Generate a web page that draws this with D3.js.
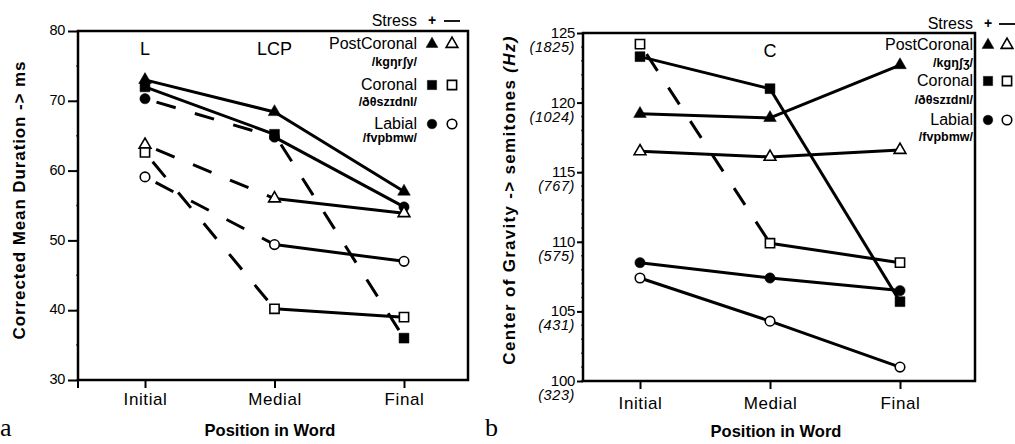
<!DOCTYPE html>
<html lang="en">
  <head>
    <meta charset="utf-8" />
    <script src="https://d3js.org/d3.v7.min.js" charset="utf-8"></script>
    <style>
      body {
        margin: 0;
        background: #fff;
      }
      svg text {
        font-family: 'Liberation Sans', Arial, sans-serif;
      }
      .axis path {
        stroke-width: 0;
      }
      .axis line {
        stroke: #000;
        stroke-width: 2;
      }
    </style>
  </head>
  <body>
    <div id="plot-container"></div>

    <script type="text/javascript">
      // data //--------------------------------------------------------

      var positions = ['Initial', 'Medial', 'Final'];
      var classes = ['PostCoronal', 'Coronal', 'Labial'];
      var phonemes_a = ['/kɡŋrʃy/', '/ðθszɪdnl/', '/fvpbmw/'];
      var phonemes_b = ['/kɡŋʃʒ/', '/ðθszɪdnl/', '/fvpbmw/'];

      // panel a: corrected mean duration (ms)
      var dur_ticks = [30, 40, 50, 60, 70, 80];
      var dur_postcoronal_stressed = [73.0, 68.4, 57.0];
      var dur_postcoronal_unstressed = [63.7, 56.0, 53.9];
      var dur_coronal_stressed = [72.0, 65.2, 36.0];
      var dur_coronal_unstressed = [62.6, 40.2, 39.0];
      var dur_labial_stressed = [70.3, 64.8, 54.8];
      var dur_labial_unstressed = [59.1, 49.4, 47.0];
      // link type of each segment: s = solid, d = dashed
      var dur_postcoronal_stressed_links = ['s', 's'];
      var dur_postcoronal_unstressed_links = ['d', 's'];
      var dur_coronal_stressed_links = ['s', 'd'];
      var dur_coronal_unstressed_links = ['d', 's'];
      var dur_labial_stressed_links = ['d', 's'];
      var dur_labial_unstressed_links = ['d', 's'];
      var dur_notes = [['Initial', 'L'], ['Medial', 'LCP']];

      // panel b: center of gravity (semitones)
      var cog_ticks = [100, 105, 110, 115, 120, 125];
      var cog_hz = ['(323)', '(431)', '(575)', '(767)', '(1024)', '(1825)'];
      var cog_postcoronal_stressed = [119.2, 118.9, 122.7];
      var cog_postcoronal_unstressed = [116.5, 116.1, 116.6];
      var cog_coronal_stressed = [123.3, 121.0, 105.7];
      var cog_coronal_unstressed = [124.2, 109.9, 108.5];
      var cog_labial_stressed = [108.5, 107.4, 106.5];
      var cog_labial_unstressed = [107.4, 104.3, 101.0];
      var cog_postcoronal_stressed_links = ['s', 's'];
      var cog_postcoronal_unstressed_links = ['s', 's'];
      var cog_coronal_stressed_links = ['s', 's'];
      var cog_coronal_unstressed_links = ['d', 's'];
      var cog_labial_stressed_links = ['s', 's'];
      var cog_labial_unstressed_links = ['s', 's'];
      var cog_notes = [['Medial', 'C']];

      // marker shapes per class
      var shapes = [d3.symbolTriangle, d3.symbolSquare, d3.symbolCircle];
      var shape_sizes = [60, 85, 72];

      var font = "'Liberation Sans', Arial, sans-serif";

      // svg //---------------------------------------------------------

      var svg = d3
        .select('#plot-container')
        .append('svg')
        .attr('width', 1015)
        .attr('height', 444);

      function MakeSeries(stressed, unstressed, s_links, u_links) {
        // one entry per class and stress level
        var out = [];
        for (var i = 0; i < 3; i++) {
          out.push({ cls: i, filled: true, values: stressed[i], links: s_links[i] });
          out.push({ cls: i, filled: false, values: unstressed[i], links: u_links[i] });
        }
        return out;
      }

      function DrawPanel(p) {
        var g = svg.append('g');

        var x = d3.scalePoint().domain(positions).range(p.x_points);
        var y = d3.scaleLinear().domain(p.y_domain).range([p.box.bottom, p.box.top]);

        // minor ticks on the left spine
        g.append('g')
          .selectAll('line')
          .data(d3.range(p.y_domain[0], p.y_domain[1], p.minor_step))
          .join('line')
          .attr('x1', p.box.left - 2)
          .attr('x2', p.box.left)
          .attr('y1', (d) => y(d))
          .attr('y2', (d) => y(d))
          .attr('stroke', '#555')
          .attr('stroke-width', 1.5);

        // y axis
        var y_axis = g
          .append('g')
          .attr('class', 'axis')
          .attr('transform', `translate(${p.box.left},0)`)
          .call(
            d3.axisLeft(y).tickValues(p.y_ticks).tickSize(p.y_tick_size).tickPadding(p.y_tick_pad)
          )
          .attr('font-family', font);
        y_axis
          .selectAll('text')
          .attr('fill', '#000')
          .style('font-size', p.y_font + 'px')
          .style('letter-spacing', '-0.3px')
          .attr('dy', p.y_dy);

        if (p.hz) {
          g.append('g')
            .selectAll('text')
            .data(p.y_ticks)
            .join('text')
            .attr('x', p.box.left - p.y_tick_size - p.y_tick_pad)
            .attr('y', (d) => y(d) + 19)
            .attr('text-anchor', 'end')
            .style('font-size', '14.5px')
            .style('font-style', 'italic')
            .style('letter-spacing', '0.6px')
            .text((d, i) => p.hz[i]);
        }

        // x axis
        var x_axis = g
          .append('g')
          .attr('class', 'axis')
          .attr('transform', `translate(0,${p.box.bottom})`)
          .call(d3.axisBottom(x).tickSize(8).tickSizeOuter(0).tickPadding(p.x_tick_pad))
          .attr('font-family', font);
        x_axis
          .selectAll('text')
          .attr('fill', '#000')
          .style('font-size', '17px')
          .style('letter-spacing', '0.6px');

        if (p.corner_tick) {
          g.append('line')
            .attr('x1', p.box.left)
            .attr('x2', p.box.left)
            .attr('y1', p.box.bottom)
            .attr('y2', p.box.bottom + 8)
            .attr('stroke', '#000')
            .attr('stroke-width', 2);
        }

        // frame
        g.append('rect')
          .attr('x', p.box.left)
          .attr('y', p.box.top)
          .attr('width', p.box.right - p.box.left)
          .attr('height', p.box.bottom - p.box.top)
          .attr('fill', 'none')
          .attr('stroke', '#000')
          .attr('stroke-width', 2.5);

        // axis titles
        g.append('text')
          .attr('x', (p.box.left + p.box.right) / 2 - 3)
          .attr('y', p.x_title_y)
          .attr('text-anchor', 'middle')
          .style('font-size', '16.5px')
          .style('font-weight', 'bold')
          .text('Position in Word');

        var yt = g
          .append('text')
          .attr('transform', `translate(${p.y_title_x},${p.y_title_mid}) rotate(-90)`)
          .attr('text-anchor', 'middle')
          .style('font-size', '17px')
          .style('font-weight', 'bold')
          .style('letter-spacing', p.y_title_spacing);
        yt.append('tspan').text(p.y_title);
        if (p.y_title_unit) {
          yt.append('tspan').style('font-style', 'italic').text(p.y_title_unit);
        }

        // notes above the lines
        g.append('g')
          .selectAll('text')
          .data(p.notes)
          .join('text')
          .attr('x', (d) => x(d[0]))
          .attr('y', p.box.top + 24)
          .attr('text-anchor', 'middle')
          .style('font-size', '18px')
          .text((d) => d[1]);

        // lines, segment by segment
        var segs = [];
        p.series.forEach((s) => {
          for (var i = 0; i < s.values.length - 1; i++) {
            segs.push({
              a: [positions[i], s.values[i]],
              b: [positions[i + 1], s.values[i + 1]],
              dashed: s.links[i] == 'd',
            });
          }
        });

        g.append('g')
          .selectAll('line')
          .data(segs)
          .join('line')
          .attr('x1', (d) => x(d.a[0]))
          .attr('y1', (d) => y(d.a[1]))
          .attr('x2', (d) => x(d.b[0]))
          .attr('y2', (d) => y(d.b[1]))
          .attr('stroke', '#000')
          .attr('stroke-width', 3)
          .attr('stroke-dasharray', (d) => (d.dashed ? '20,20' : null))
          .attr('stroke-dashoffset', (d) => (d.dashed ? -12 : null));

        // markers: filled first, open on top
        var pts = [];
        p.series.forEach((s) => {
          s.values.forEach((v, i) => {
            pts.push({ pos: positions[i], v: v, cls: s.cls, filled: s.filled });
          });
        });
        pts.sort((a, b) => b.filled - a.filled);

        g.append('g')
          .selectAll('path')
          .data(pts)
          .join('path')
          .attr('transform', (d) => `translate(${x(d.pos)},${y(d.v)})`)
          .attr('d', (d) =>
            d3.symbol().type(shapes[d.cls]).size(d.filled ? shape_sizes[d.cls] * 1.15 : shape_sizes[d.cls])()
          )
          .attr('fill', (d) => (d.filled ? '#000' : '#fff'))
          .attr('stroke', '#000')
          .attr('stroke-width', (d) => (d.filled ? 0.5 : 1.6));

        // legend
        var lg = g.append('g').style('font-size', '16px');
        var lx = p.legend.text_x;
        lg.append('text')
          .attr('x', lx)
          .attr('y', p.legend.stress_y)
          .attr('text-anchor', 'end')
          .text('Stress');
        lg.append('text')
          .attr('x', p.legend.m1)
          .attr('y', p.legend.stress_y - 1)
          .attr('text-anchor', 'middle')
          .style('font-size', '14px')
          .style('font-weight', 'bold')
          .text('+');
        lg.append('line')
          .attr('x1', p.legend.m2 - 8)
          .attr('x2', p.legend.m2 + 8)
          .attr('y1', p.legend.stress_y - 5)
          .attr('y2', p.legend.stress_y - 5)
          .attr('stroke', '#000')
          .attr('stroke-width', 1.8);

        classes.forEach((c, i) => {
          var ry = p.legend.rows[i];
          lg.append('text')
            .attr('x', lx)
            .attr('y', ry)
            .attr('text-anchor', 'end')
            .text(c);
          lg.append('text')
            .attr('x', lx)
            .attr('y', ry + p.legend.sub_dy[i])
            .attr('text-anchor', 'end')
            .style('font-size', '12.5px')
            .style('font-weight', 'bold')
            .text(p.phonemes[i]);
          [true, false].forEach((filled) => {
            lg.append('path')
              .attr('transform', `translate(${filled ? p.legend.m1 : p.legend.m2},${ry - 5})`)
              .attr('d', d3.symbol().type(shapes[i]).size(shape_sizes[i])())
              .attr('fill', filled ? '#000' : '#fff')
              .attr('stroke', '#000')
              .attr('stroke-width', filled ? 0.5 : 1.6);
          });
        });
      }

      // panel a -------------------------------------------------------

      DrawPanel({
        box: { left: 78, right: 468, top: 31, bottom: 380 },
        x_points: [145, 404],
        y_domain: [30, 80],
        y_ticks: dur_ticks,
        minor_step: 5,
        y_tick_size: 10,
        y_tick_pad: 3,
        y_font: 14.5,
        y_dy: '0.25em',
        x_tick_pad: 5,
        corner_tick: true,
        x_title_y: 436,
        y_title_x: 25,
        y_title_mid: 200,
        y_title: 'Corrected Mean Duration -> ms',
        y_title_unit: null,
        y_title_spacing: '0.9px',
        notes: dur_notes,
        phonemes: phonemes_a,
        series: MakeSeries(
          [dur_postcoronal_stressed, dur_coronal_stressed, dur_labial_stressed],
          [dur_postcoronal_unstressed, dur_coronal_unstressed, dur_labial_unstressed],
          [dur_postcoronal_stressed_links, dur_coronal_stressed_links, dur_labial_stressed_links],
          [dur_postcoronal_unstressed_links, dur_coronal_unstressed_links, dur_labial_unstressed_links]
        ),
        legend: {
          text_x: 417,
          m1: 432,
          m2: 452,
          stress_y: 26,
          rows: [49, 90, 129],
          sub_dy: [17, 16, 13],
        },
      });

      // panel b -------------------------------------------------------

      DrawPanel({
        box: { left: 583, right: 975, top: 33, bottom: 381 },
        x_points: [640, 900],
        y_domain: [100, 125],
        y_ticks: cog_ticks,
        minor_step: 1,
        y_tick_size: 6,
        y_tick_pad: 2,
        y_font: 15,
        y_dy: '0.3em',
        x_tick_pad: 8,
        corner_tick: false,
        hz: cog_hz,
        x_title_y: 437,
        y_title_x: 515,
        y_title_mid: 200,
        y_title: 'Center of Gravity -> semitones ',
        y_title_unit: '(Hz)',
        y_title_spacing: '1.3px',
        notes: cog_notes,
        phonemes: phonemes_b,
        series: MakeSeries(
          [cog_postcoronal_stressed, cog_coronal_stressed, cog_labial_stressed],
          [cog_postcoronal_unstressed, cog_coronal_unstressed, cog_labial_unstressed],
          [cog_postcoronal_stressed_links, cog_coronal_stressed_links, cog_labial_stressed_links],
          [cog_postcoronal_unstressed_links, cog_coronal_unstressed_links, cog_labial_unstressed_links]
        ),
        legend: {
          text_x: 973,
          m1: 988,
          m2: 1007,
          stress_y: 29,
          rows: [50, 86, 125],
          sub_dy: [17, 18, 16],
        },
      });

      // panel letters
      svg
        .append('text')
        .attr('x', 0)
        .attr('y', 436)
        .style('font-family', "'Liberation Serif', serif")
        .style('font-size', '26px')
        .text('a');
      svg
        .append('text')
        .attr('x', 485)
        .attr('y', 436)
        .style('font-family', "'Liberation Serif', serif")
        .style('font-size', '26px')
        .text('b');
    </script>
  </body>
</html>
